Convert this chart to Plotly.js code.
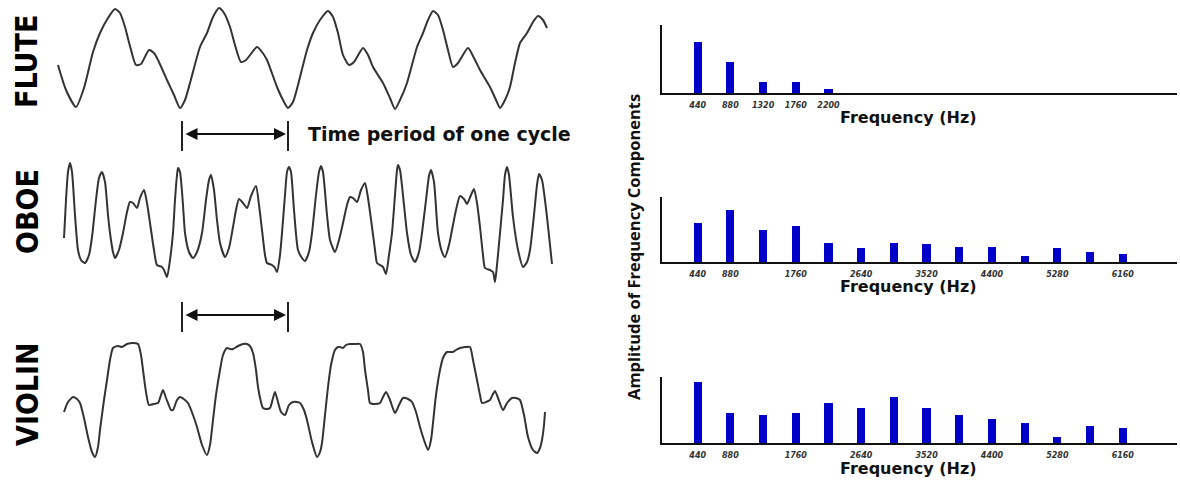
<!DOCTYPE html>
<html>
<head>
<meta charset="utf-8">
<script src="https://cdn.plot.ly/plotly-3.0.1.min.js"></script>
<style>html,body{margin:0;padding:0;background:#fff;}#chart{width:1180px;height:483px;}</style>
</head>
<body>
<div id="chart"></div>
<script>
// ---- Waveforms (time in arbitrary units, amplitude in arbitrary units) ----
var fluteT = [58,66,76,84,93,100,108,115,120,125,130,136,141,149,154,158,167,174,180,185,190,200,207,213,219,224,230,235,241,246,257,262,267,277,283,288,293,298,307,313,320,328,333,338,343,349,354,363,368,373,383,390,395,400,407,417,423,428,433,438,443,448,453,458,468,474,480,490,496,500,505,510,515,520,527,533,538,543,547];
var fluteA = [-7,-32,-49,-30,6,25,40,49,45,31,12,-7,-6,8,5,-2,-22,-37,-50,-42,-25,11,25,41,50,45,31,13,-4,-2,11,6,-2,-29,-42,-50,-44,-27,8,25,38,47,41,25,3,-7,-4,10,3,-9,-25,-40,-51,-42,-25,11,25,38,47,43,28,8,-9,-5,10,0,-12,-29,-42,-50,-42,-29,-5,15,25,36,42,38,30];

var oboeT = [64,66,68,70,72,75,78,81,85,89,92,96,99,102,105,108,110,113,115,119,123,127,130,133,137,140,144,147,150,154,157,162,164,167,170,173,175,177,178,180,183,185,189,193,197,202,206,209,211,214,217,220,225,229,233,236,239,243,247,251,256,259,262,265,267,272,275,277,280,282,285,287,289,291,294,298,302,305,309,312,316,319,321,323,327,330,335,339,343,347,350,353,357,361,365,368,372,375,377,380,383,386,389,392,395,397,398,400,404,407,411,415,419,422,426,429,431,434,438,442,445,449,452,456,460,464,467,471,474,477,480,483,485,490,493,495,497,500,503,505,507,509,513,518,523,527,530,534,537,539,542,547,550,552];
var oboeA = [-16,22,50,59,50,7,-28,-38,-41,-33,-15,22,44,50,40,7,-11,-30,-36,-28,-11,10,20,19,14,24,32,19,-1,-28,-43,-45,-48,-55,-38,-11,22,47,54,50,17,-11,-30,-36,-30,-11,22,42,47,32,2,-21,-35,-26,-5,12,23,19,14,26,36,17,-8,-33,-41,-43,-46,-50,-33,-11,27,50,55,50,12,-28,-36,-39,-30,-11,27,50,56,50,7,-18,-30,-18,-1,17,25,24,20,32,39,24,-5,-28,-41,-43,-45,-52,-33,-11,27,52,57,52,17,-11,-33,-40,-30,-11,22,46,52,40,-11,-30,-35,-23,-8,12,26,23,18,27,33,19,-5,-33,-46,-48,-50,-60,-43,-11,22,47,55,47,5,-28,-45,-40,-28,7,37,48,42,5,-23,-42];

var violinT = [64,68,73,77,80,84,88,92,95,98,100,104,107,110,113,118,122,127,133,138,141,143,146,149,154,158,161,163,166,168,171,173,177,180,185,188,193,197,202,207,210,213,216,220,223,227,230,233,238,243,247,250,253,256,258,261,263,267,270,273,275,278,281,285,289,293,297,300,304,307,312,317,320,322,325,328,331,335,338,340,343,346,350,355,360,363,365,368,370,375,380,383,386,390,395,399,403,408,412,416,420,424,428,431,433,436,440,443,447,450,453,456,460,465,470,473,477,480,482,486,490,493,495,498,503,507,512,516,520,524,528,533,537,540,542,544,545];
var violinA = [-12,-2,3,1,-3,-18,-37,-52,-57,-47,-30,0,20,40,52,54,53,56,57,56,45,30,8,-5,-4,-3,5,10,2,-3,-10,-10,0,3,0,-3,-15,-27,-45,-55,-45,-20,5,30,45,52,51,51,54,56,56,54,47,30,13,-2,-8,-9,-8,2,8,-2,-12,-15,-5,-2,-2,-3,-10,-20,-42,-57,-52,-43,-15,13,35,50,53,53,52,55,56,56,56,48,30,10,-3,-4,-3,3,8,0,-13,-5,2,1,-2,-12,-27,-40,-50,-40,-23,5,30,42,48,48,48,50,52,53,53,40,20,5,-3,-2,0,6,9,2,-10,-3,2,2,0,-15,-37,-50,-53,-48,-40,-25,-12];

var instruments = ["FLUTE", "OBOE", "VIOLIN"];
var periodLabel = "Time period of one cycle";
var periodStart = 182, periodEnd = 288;   // one cycle of the 440 Hz note (time units)

// ---- Spectra (Hz, relative amplitude) ----
var fluteFreq = [440, 880, 1320, 1760, 2200];
var fluteAmp  = [51, 31, 11, 11, 4];
var harmFreq  = [440, 880, 1320, 1760, 2200, 2640, 3080, 3520, 3960, 4400, 4840, 5280, 5720, 6160];
var oboeAmp   = [39, 52, 32, 36, 19, 14, 19, 18, 15, 15, 6, 14, 10, 8];
var violinAmp = [61, 30, 28, 30, 40, 35, 46, 35, 28, 24, 20, 6, 17, 15];
var fluteTicks = [440, 880, 1320, 1760, 2200];
var harmTicks  = [440, 880, 1760, 2640, 3520, 4400, 5280, 6160];
var freqTitle = "Frequency (Hz)";
var ampTitle = "Amplitude of Frequency Components";

var W = 1180, H = 483;
function py(p){ return 1 - p / H; }   // helper to convert layout pixels to paper fraction
function px(p){ return p / W; }

var waveLine = {color: '#333333', width: 2, shape: 'spline', smoothing: 0.6};
var barColor = '#0000c8';

var traces = [
  {x: fluteT, y: fluteA, xaxis: 'x', yaxis: 'y', type: 'scatter', mode: 'lines', line: waveLine, hoverinfo: 'skip'},
  {x: oboeT, y: oboeA, xaxis: 'x', yaxis: 'y2', type: 'scatter', mode: 'lines', line: waveLine, hoverinfo: 'skip'},
  {x: violinT, y: violinA, xaxis: 'x', yaxis: 'y3', type: 'scatter', mode: 'lines', line: waveLine, hoverinfo: 'skip'},
  {x: fluteFreq, y: fluteAmp, xaxis: 'x2', yaxis: 'y4', type: 'bar', width: 110, marker: {color: barColor}},
  {x: harmFreq, y: oboeAmp, xaxis: 'x3', yaxis: 'y5', type: 'bar', width: 110, marker: {color: barColor}},
  {x: harmFreq, y: violinAmp, xaxis: 'x4', yaxis: 'y6', type: 'bar', width: 110, marker: {color: barColor}}
];

var hidden = {visible: false, fixedrange: true};
var tickFont = {family: 'DejaVu Sans, sans-serif', size: 8, color: '#333', style: 'italic', weight: 'bold'};
function freqAxis(anchor, ticks){
  return {domain: [px(662), px(1177)], range: [-40, 6890], anchor: anchor, showline: true, linecolor: '#111', linewidth: 2,
    showgrid: false, zeroline: false, ticks: '', tickmode: 'array', tickvals: ticks, ticktext: ticks.map(String),
    tickfont: tickFont, ticklabelstandoff: 3};
}
function ampAxis(anchor, top, base, maxv){
  return {domain: [py(base), py(top)], range: [0, maxv], anchor: anchor, showline: true, linecolor: '#111', linewidth: 2,
    showgrid: false, zeroline: false, ticks: '', showticklabels: false};
}

var layout = {
  width: W, height: H,
  margin: {l: 0, r: 0, t: 0, b: 0},
  paper_bgcolor: '#fff', plot_bgcolor: 'rgba(0,0,0,0)',
  showlegend: false, bargap: 0,
  xaxis: Object.assign({domain: [0, px(600)], range: [0, 600], anchor: 'y'}, hidden),
  yaxis: Object.assign({domain: [py(125), 1], range: [-67, 58], anchor: 'x'}, hidden),
  yaxis2: Object.assign({domain: [py(300), py(150)], range: [-78, 72], anchor: 'x'}, hidden),
  yaxis3: Object.assign({domain: [py(475), py(325)], range: [-75, 75], anchor: 'x'}, hidden),
  xaxis2: freqAxis('y4', fluteTicks),
  xaxis3: freqAxis('y5', harmTicks),
  xaxis4: freqAxis('y6', harmTicks),
  yaxis4: ampAxis('x2', 25, 93, 68),
  yaxis5: ampAxis('x3', 197, 262, 65),
  yaxis6: ampAxis('x4', 377, 443, 66),
  shapes: [],
  annotations: []
};

var labelFont = {family: 'Liberation Sans Narrow, DejaVu Sans Condensed, Arial Narrow, sans-serif', size: 30, color: '#000', weight: 'bold'};
var labelY = [62, 212, 394];
instruments.forEach(function(name, i){
  layout.annotations.push({text: name, xref: 'paper', yref: 'paper', x: px(27), y: py(labelY[i]), textangle: -90,
    showarrow: false, font: labelFont, xanchor: 'center', yanchor: 'middle'});
});

// period arrows
[134, 315].forEach(function(yy){
  layout.annotations.push({text: '', xref: 'x', yref: 'paper', x: periodEnd, y: py(yy), axref: 'x', ayref: 'pixel',
    ax: periodStart, ay: 0, showarrow: true, arrowhead: 2, startarrowhead: 2, arrowside: 'end+start',
    arrowsize: 1.2, startarrowsize: 1.2, arrowwidth: 2, arrowcolor: '#111', standoff: 2, startstandoff: 2});
  [periodStart, periodEnd].forEach(function(xx){
    layout.shapes.push({type: 'line', xref: 'x', yref: 'paper', x0: xx, x1: xx, y0: py(yy - 13), y1: py(yy + 17),
      line: {color: '#222', width: 2}});
  });
});
layout.annotations.push({text: periodLabel, xref: 'x', yref: 'paper', x: 306, y: py(134), xanchor: 'left', yanchor: 'middle',
  showarrow: false, font: {family: 'DejaVu Sans, sans-serif', size: 19, color: '#111', weight: 'bold'}});

// frequency titles
[118, 286, 468].forEach(function(yy){
  layout.annotations.push({text: freqTitle, xref: 'paper', yref: 'paper', x: px(908), y: py(yy), xanchor: 'center', yanchor: 'middle',
    showarrow: false, font: {family: 'DejaVu Sans, sans-serif', size: 16, color: '#111', weight: 'bold'}});
});
layout.annotations.push({text: ampTitle, xref: 'paper', yref: 'paper', x: px(633), y: py(247), textangle: -90,
  xanchor: 'center', yanchor: 'middle', showarrow: false,
  font: {family: 'Open Sans, sans-serif', size: 16.5, color: '#111', weight: 'bold'}});

Plotly.newPlot('chart', traces, layout, {staticPlot: true, displayModeBar: false});
</script>
</body>
</html>
